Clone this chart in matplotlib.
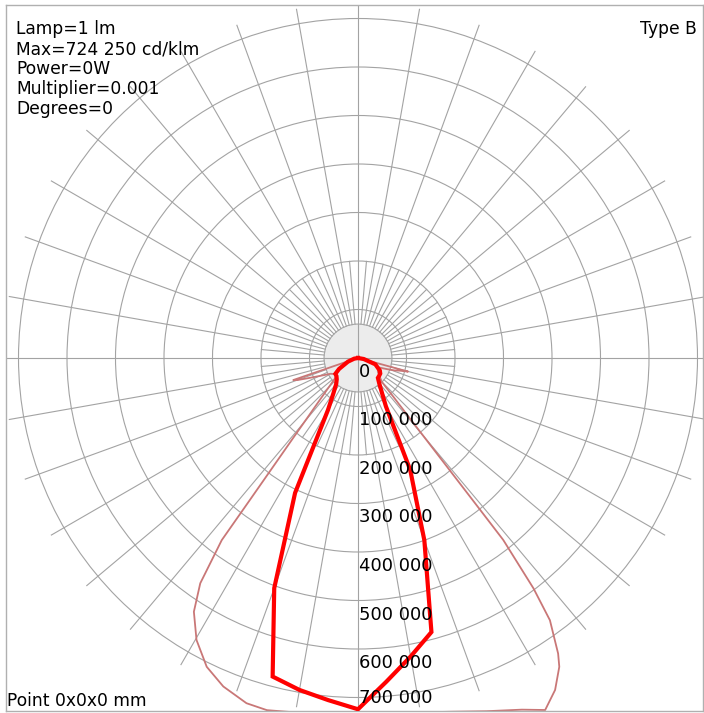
import matplotlib
matplotlib.use('Agg')
import matplotlib.pyplot as plt
from matplotlib.patches import Circle
import numpy as np

# C0-C180 plane (thick red), gamma in degrees from nadir, cd/klm
c0_gamma = [-90, -80, -70, -60, -55, -50, -45, -40, -35, -30, -25, -20, -15, -10, -5, 0,
            5, 10, 15, 20, 25, 30, 35, 40, 45, 50, 55, 60, 70, 80, 90]
c0_cd = [0, 8000, 22000, 45000, 57000, 58000, 62000, 70000, 88000, 124000, 307000, 505000,
         680000, 695000, 708000, 724250,
         670000, 625000, 585000, 400000, 255000, 115000, 85000, 68000, 58000, 57000,
         56000, 52000, 38000, 12000, 0]

# C90-C270 plane (thin line)
c90_gamma = [-90, -73, -71.9, -71.2, -70, -68, -65, -60, -55, -50, -48.6, -45, -42.5, -40.2,
             -39.1, -38.2, -37.3, -36.8, -35, -32.9, -29.8, -26.1, -22.3, -17.9, -14.5, -10,
             -5, 0, 5, 10, 15, 20, 25, 28, 30.7, 33.1, 34.1, 36.2, 37.3, 38.6, 38.9, 39.4,
             40.5, 42.3, 45, 50, 55, 65, 69, 71.3, 73, 74.8, 75.2, 76, 90]
c90_cd = [0, 0, 24500, 141000, 133000, 111000, 88000, 65000, 58000, 60000, 63000, 85000,
          114000, 164000, 209000, 266000, 367000, 469000, 567000, 623000, 670000, 709000,
          732000, 748000, 750000, 742000, 745000, 745000, 745000, 742000, 755000, 775000,
          800000, 822000, 796000, 760000, 736000, 670000, 597000, 480000, 377000, 275000,
          172000, 110000, 69000, 58000, 50000, 45000, 64000, 80000, 89000, 107000, 30000,
          0, 0]

ring_values = [0, 100000, 200000, 300000, 400000, 500000, 600000, 700000]
ring_labels = ['0', '100 000', '200 000', '300 000', '400 000', '500 000', '600 000', '700 000']

info_lines = ['Lamp=1 lm', 'Max=724 250 cd/klm', 'Power=0W', 'Multiplier=0.001', 'Degrees=0']

W, H = 704, 713
fig = plt.figure(figsize=(W / 100, H / 100), dpi=100)
ax = fig.add_axes([6 / W, 1 - 711 / H, 697 / W, 706 / H])

px = 48.5  # pixels per 100 000
cx, cy = 358, 358
ax.set_xlim((6 - cx) / px, (703 - cx) / px)
ax.set_ylim(-(711 - cy) / px, (cy - 5) / px)
ax.set_aspect('auto')
ax.set_xticks([])
ax.set_yticks([])
for s in ax.spines.values():
    s.set_color('#b0b0b0')
    s.set_linewidth(1.0)

grid_c = '#a3a3a3'
grid_lw = 0.8
r_disk = 0.70
r_out = 7.3

ax.add_patch(Circle((0, 0), r_disk, facecolor='#ececec', edgecolor=grid_c, lw=grid_lw, zorder=1))
for k in range(1, 8):
    ax.add_patch(Circle((0, 0), k, fill=False, edgecolor=grid_c, lw=grid_lw, zorder=1))

ax.axhline(0, color=grid_c, lw=grid_lw, zorder=1)
ax.axvline(0, color=grid_c, lw=grid_lw, zorder=1)
for a in range(0, 360, 5):
    if a % 90 == 0:
        continue
    r1 = r_out if a % 10 == 0 else 2.0
    t = np.radians(a)
    ax.plot([r_disk * np.sin(t), r1 * np.sin(t)], [-r_disk * np.cos(t), -r1 * np.cos(t)],
            color=grid_c, lw=grid_lw, zorder=1)

# curves: gamma measured from nadir (down)
g = np.radians(c90_gamma)
r = np.array(c90_cd) / 100000
ax.plot(r * np.sin(g), -r * np.cos(g), color='#c97777', lw=1.3, zorder=2)

g = np.radians(c0_gamma)
r = np.array(c0_cd) / 100000
ax.plot(r * np.sin(g), -r * np.cos(g), color='#ff0000', lw=3.0, zorder=3,
        solid_joinstyle='miter')

ymin = ax.get_ylim()[0]
for v, lab in zip(ring_values, ring_labels):
    y = max(-(v / 100000 + 19 / px), ymin + 8 / px)
    ax.text(0.02, y, lab, fontsize=13, va='baseline', ha='left', color='black', zorder=4)

for i, line in enumerate(info_lines):
    fig.text(16.5 / W, 1 - (34.3 + 20 * i) / H, line, fontsize=12.3, va='baseline', ha='left')
fig.text(697 / W, 1 - 34.3 / H, 'Type B', fontsize=12.3, va='baseline', ha='right')
fig.text(7.5 / W, 1 - 706.5 / H, 'Point 0x0x0 mm', fontsize=12.3, va='baseline', ha='left')

fig.savefig('out.png', dpi=100)
